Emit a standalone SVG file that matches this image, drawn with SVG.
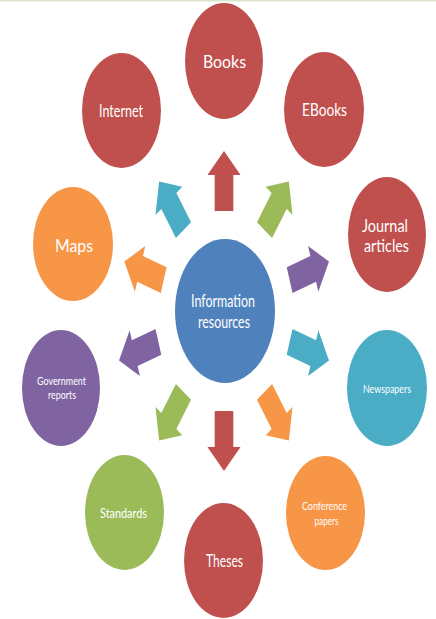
<svg xmlns="http://www.w3.org/2000/svg" xmlns:xlink="http://www.w3.org/1999/xlink" width="436" height="619" viewBox="0 0 436 619">
<style>
.red{fill:#C0504D}.teal{fill:#4BACC6}.green{fill:#9BBB59}.orange{fill:#F79646}.purple{fill:#8064A2}.blue{fill:#4F81BD}
text{font-family:Lato,"Open Sans","Liberation Sans",sans-serif;fill:#FFFFFF;text-anchor:middle}
</style>
<defs>
<polygon id="arr" points="-13.5,30 -13.5,-6 -24,-6 0,-30 24,-6 13.5,-6 13.5,30"/>
</defs>
<rect x="0" y="0" width="436" height="619" fill="#FFFFFF"/>
<rect x="0" y="0" width="436" height="1.5" fill="#DDE5C9"/>
<g id="connectors">
<use xlink:href="#arr" class="red" transform="translate(224,181) scale(0.69,1) rotate(0)"/>
<use xlink:href="#arr" class="green" transform="translate(276.7,205.8) scale(0.69,1) rotate(36)"/>
<use xlink:href="#arr" class="purple" transform="translate(309.3,270.8) scale(0.69,1) rotate(72)"/>
<use xlink:href="#arr" class="teal" transform="translate(309.3,351.2) scale(0.69,1) rotate(108)"/>
<use xlink:href="#arr" class="orange" transform="translate(276.7,416.2) scale(0.69,1) rotate(144)"/>
<use xlink:href="#arr" class="red" transform="translate(224,441) scale(0.69,1) rotate(180)"/>
<use xlink:href="#arr" class="green" transform="translate(171.3,416.2) scale(0.69,1) rotate(216)"/>
<use xlink:href="#arr" class="purple" transform="translate(138.7,351.2) scale(0.69,1) rotate(252)"/>
<use xlink:href="#arr" class="orange" transform="translate(144,270.8) scale(0.69,1) rotate(288)"/>
<use xlink:href="#arr" class="teal" transform="translate(171.3,205.8) scale(0.69,1) rotate(324)"/>
</g>
<g id="center">
<ellipse class="blue" cx="225" cy="311" rx="50" ry="72"/>
<text x="223" y="307" font-size="16.3" textLength="64" lengthAdjust="spacingAndGlyphs">Information</text>
<text x="224" y="328" font-size="16.3" textLength="52" lengthAdjust="spacingAndGlyphs">resources</text>
</g>
<g id="books">
<ellipse class="red" cx="224" cy="61" rx="39" ry="58"/>
<text x="224.5" y="68" font-size="18" textLength="43" lengthAdjust="spacingAndGlyphs">Books</text>
</g>
<g id="ebooks">
<ellipse class="red" cx="324" cy="109.5" rx="40" ry="57.5"/>
<text x="324.5" y="116" font-size="17.5" textLength="45" lengthAdjust="spacingAndGlyphs">EBooks</text>
</g>
<g id="journal">
<ellipse class="red" cx="387" cy="234.5" rx="39" ry="57.5"/>
<text x="385" y="232" font-size="18" textLength="46" lengthAdjust="spacingAndGlyphs">Journal</text>
<text x="386.5" y="252" font-size="18" textLength="45" lengthAdjust="spacingAndGlyphs">articles</text>
</g>
<g id="newspapers">
<ellipse class="teal" cx="387" cy="388" rx="40" ry="58"/>
<text x="387" y="392.5" font-size="11.6" textLength="48" lengthAdjust="spacingAndGlyphs">Newspapers</text>
</g>
<g id="conference">
<ellipse class="orange" cx="325.5" cy="513" rx="39.5" ry="57"/>
<text x="324.5" y="510" font-size="11.6" textLength="45" lengthAdjust="spacingAndGlyphs">Conference</text>
<text x="326.5" y="525" font-size="11.6" textLength="24" lengthAdjust="spacingAndGlyphs">papers</text>
</g>
<g id="theses">
<ellipse class="red" cx="223.5" cy="560.5" rx="39.5" ry="57.5"/>
<text x="224.5" y="567" font-size="17" textLength="37" lengthAdjust="spacingAndGlyphs">Theses</text>
</g>
<g id="standards">
<ellipse class="green" cx="124.5" cy="512.5" rx="39.5" ry="57.5"/>
<text x="123.5" y="518" font-size="14" textLength="47" lengthAdjust="spacingAndGlyphs">Standards</text>
</g>
<g id="government">
<ellipse class="purple" cx="61" cy="388" rx="39" ry="58"/>
<text x="61.5" y="385" font-size="11.6" textLength="49" lengthAdjust="spacingAndGlyphs">Government</text>
<text x="62" y="399" font-size="11.6" textLength="28" lengthAdjust="spacingAndGlyphs">reports</text>
</g>
<g id="maps">
<ellipse class="orange" cx="73" cy="244" rx="40" ry="57"/>
<text x="74" y="252" font-size="17" textLength="38" lengthAdjust="spacingAndGlyphs">Maps</text>
</g>
<g id="internet">
<ellipse class="red" cx="121.5" cy="110.5" rx="39.5" ry="57.5"/>
<text x="121" y="117" font-size="17" textLength="44" lengthAdjust="spacingAndGlyphs">Internet</text>
</g>
</svg>
